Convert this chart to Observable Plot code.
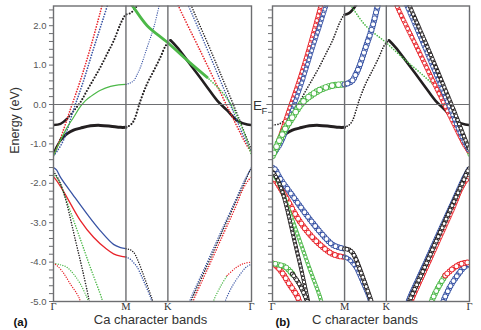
<!DOCTYPE html>
<html><head><meta charset="utf-8">
<script src="https://cdn.jsdelivr.net/npm/d3@7"></script>
<script src="https://cdn.jsdelivr.net/npm/@observablehq/plot@0.6"></script>
<style>
body{margin:0;background:#fff;}
#wrap{position:relative;width:481px;height:330px;overflow:hidden;background:#fff;}
#wrap svg{position:absolute;top:0;}
</style></head><body><div id="wrap"></div>
<script>
// k-path positions (units of 2π/a) and labels
const kTicks = [0, 0.577, 0.911, 1.577];
const kLabels = ["Γ", "M", "K", "Γ"];
const eMajor = [-5, -4, -3, -2, -1, 0, 1, 2];
const eMinor = d3.range(-5, 2.51, 0.2);
const panelTitles = ["Ca character bands", "C character bands"];
const panelTags = ["(a)", "(b)"];

// bands: [k, E (eV)]
const bandA = [[0,-0.52],[0.056,-0.49],[0.109,-0.36],[0.159,-0.17],[0.215,0.06],[0.268,0.36],[0.321,0.65],[0.374,0.95],[0.428,1.29],[0.480,1.62],[0.534,2.05],[0.565,2.24],[0.577,2.28],[0.613,2.32],[0.645,2.42],[0.677,2.56]];
const bandB = [[0,-1.25],[0.024,-1.08],[0.056,-0.9],[0.109,-0.74],[0.159,-0.65],[0.215,-0.6],[0.295,-0.54],[0.374,-0.53],[0.454,-0.55],[0.534,-0.58],[0.577,-0.58],[0.613,-0.52],[0.640,-0.41],[0.693,0.1],[0.746,0.53],[0.799,0.86],[0.852,1.2],[0.895,1.5],[0.932,1.63],[0.985,1.45],[1.065,1.12],[1.145,0.78],[1.224,0.44],[1.304,0.1],[1.383,-0.15],[1.463,-0.41],[1.543,-0.51],[1.577,-0.52]];
const bandG1 = [[0,-1.3],[0.056,-0.91],[0.109,-0.58],[0.159,-0.33],[0.215,-0.05],[0.255,0.1],[0.295,0.2],[0.374,0.36],[0.454,0.46],[0.518,0.5],[0.577,0.51]];
const bandBl1 = [[0.577,0.51],[0.613,0.55],[0.640,0.61],[0.669,0.78],[0.693,0.95],[0.746,1.45],[0.799,1.96],[0.839,2.47],[0.852,2.62]];
const bandG2 = [[0.597,2.62],[0.627,2.51],[0.746,2.0],[0.906,1.58],[1.065,1.12],[1.224,0.69],[1.330,0.36],[1.410,0.02],[1.489,-0.49],[1.529,-0.8],[1.560,-1.12],[1.577,-1.28]];
const bandR1 = [[0,-1.28],[0.024,-1.12],[0.056,-0.86],[0.135,-0.12],[0.215,0.62],[0.295,1.45],[0.374,2.36],[0.398,2.65]];
const bandU1 = [[0,-1.3],[0.032,-1.17],[0.080,-0.9],[0.159,-0.14],[0.239,0.6],[0.319,1.42],[0.398,2.2],[0.438,2.6]];
const bandR2 = [[0.980,2.65],[0.996,2.5],[1.171,1.35],[1.330,0.3],[1.450,-0.48],[1.529,-0.98],[1.577,-1.22]];
const bandU2 = [[1.059,2.6],[1.075,2.5],[1.211,1.5],[1.330,0.6],[1.434,-0.2],[1.513,-0.8],[1.577,-1.2]];
const bandK2 = [[1.083,2.65],[1.099,2.5],[1.235,1.5],[1.354,0.6],[1.458,-0.2],[1.529,-0.78],[1.577,-1.15]];
const bandL1b = [[0,-1.6],[0.024,-1.66],[0.056,-1.85],[0.159,-2.31],[0.265,-2.77],[0.372,-3.2],[0.478,-3.55],[0.534,-3.63],[0.577,-3.66]];
const bandL1r = [[0,-1.83],[0.040,-2.0],[0.106,-2.35],[0.213,-2.94],[0.319,-3.37],[0.422,-3.67],[0.478,-3.79],[0.534,-3.85],[0.577,-3.87]];
const bandL2 = [[0.577,-3.66],[0.613,-3.69],[0.640,-3.76],[0.667,-3.92],[0.719,-4.35],[0.786,-4.95],[0.800,-5.1]];
const bandL3 = [[0.577,-3.87],[0.613,-3.93],[0.640,-4.02],[0.667,-4.13],[0.719,-4.49],[0.779,-4.95],[0.792,-5.1]];
const bandS2 = [[0,-1.75],[0.024,-1.85],[0.053,-2.01],[0.135,-2.72],[0.215,-3.43],[0.295,-4.15],[0.385,-4.93],[0.396,-5.08]];
const bandS1 = [[0,-1.7],[0.040,-1.9],[0.072,-2.15],[0.106,-2.52],[0.175,-3.45],[0.231,-4.2],[0.279,-4.9],[0.289,-5.08]];
const bandL4 = [[0,-4.03],[0.056,-4.07],[0.106,-4.13],[0.159,-4.3],[0.213,-4.55],[0.265,-4.89],[0.289,-5.08]];
const bandL5 = [[0,-4.03],[0.032,-4.1],[0.080,-4.28],[0.133,-4.55],[0.186,-4.8],[0.207,-4.93],[0.217,-5.08]];
const bandS3 = [[1.089,-5.08],[1.099,-4.97],[1.211,-4.18],[1.330,-3.33],[1.450,-2.48],[1.529,-1.93],[1.561,-1.7],[1.577,-1.62]];
const bandS4 = [[1.105,-5.08],[1.115,-4.97],[1.235,-4.12],[1.354,-3.28],[1.450,-2.6],[1.513,-2.12],[1.553,-1.92],[1.577,-1.85]];
const bandS5 = [[1.077,-5.08],[1.087,-4.97],[1.211,-4.1],[1.330,-3.26],[1.450,-2.43],[1.529,-1.88],[1.577,-1.6]];
const bandR5 = [[1.270,-5.08],[1.277,-4.97],[1.330,-4.62],[1.383,-4.34],[1.450,-4.15],[1.513,-4.04],[1.577,-4.0]];
const bandR6 = [[1.360,-5.08],[1.370,-4.97],[1.426,-4.6],[1.489,-4.3],[1.537,-4.12],[1.577,-4.05]];

const bands = {A: bandA, B: bandB, G1: bandG1, Bl1: bandBl1, G2: bandG2, R1: bandR1, U1: bandU1,
  R2: bandR2, U2: bandU2, K2: bandK2, L1b: bandL1b, L1r: bandL1r, L2: bandL2, L3: bandL3,
  S1: bandS1, S2: bandS2, L4: bandL4, L5: bandL5, S3: bandS3, S4: bandS4, S5: bandS5, R5: bandR5, R6: bandR6};

// orbital character: [band, fromKnot, toKnot, colour, weight style]
const charCa = [
 ["B",0,2,"k","s2.2"],["B",2,10,"k","s3"],["B",10,18,"k","d2.2"],["B",18,27,"k","s2.6"],
 ["A",0,2,"k","s2.4"],["A",2,15,"k","d2.1"],
 ["L1b",0,8,"b","s1.3"],["L1r",0,8,"r","s1.3"],
 ["L2",0,6,"k","d1.5"],["L3",0,6,"b","d1.5"],
 ["S2",0,7,"g","d1.6"],["S1",0,7,"k","d1.6"],
 ["L4",0,6,"g","d1.4"],["L5",0,6,"r","d1.4"],
 ["S3",0,7,"k","d1.6"],["S4",0,7,"r","d1.6"],["S5",0,6,"b","d1.5"],
 ["R5",0,3,"g","d1.4"],["R5",3,6,"r","d1.4"],["R6",0,5,"b","d1.4"],
 ["R1",0,7,"r","d1.7"],["U1",0,7,"b","d1.7"],
 ["R2",0,6,"r","d1.7"],["U2",0,6,"b","d1.6"],["K2",0,6,"k","d1.6"],
 ["G1",0,10,"g","s1.2"],["Bl1",0,8,"b","d1.3"],
 ["G2",0,5,"g","s2.8"],["G2",5,11,"g","d1.7"]
];
const charC = [
 ["A",0,12,"k","d1.7"],["A",12,15,"k","s2.6"],
 ["B",0,2,"k","s1.8"],["B",2,10,"k","s3"],["B",10,18,"k","d1.7"],["B",18,27,"k","s2.6"],
 ["G2",0,7,"g","d1.7"],["G2",7,11,"g","o3.8"],
 ["R1",0,7,"r","o4.8"],["U1",0,7,"b","o4.8"],
 ["G1",0,10,"g","o6.6"],["Bl1",0,8,"b","o6"],
 ["R2",0,6,"r","o4.8"],["U2",0,6,"b","o4.8"],["K2",0,6,"k","o4.4"],
 ["L1r",0,8,"r","o5.8"],["L1b",0,8,"b","o5.8"],
 ["L3",0,6,"b","o4.8"],["L2",0,6,"k","o4.8"],
 ["S2",0,7,"g","o4.2"],["S1",0,7,"k","o4.2"],
 ["L5",0,6,"r","o5.8"],["L4",0,3,"g","o5.8"],["L4",3,6,"k","o4.8"],
 ["S5",0,6,"b","o4.8"],["S4",0,7,"r","o4.8"],["S3",0,7,"k","o4.8"],
 ["R6",0,5,"b","o5.8"],["R5",0,3,"g","o5.8"],["R5",3,6,"r","o5.8"]
];

const colors = {r: "#e8242b", b: "#3853a4", g: "#4cb848", k: "#231f20"};
const gray = "#6d6e71";
const tickLen = 0.032;

function bandMarks(chars) {
  const marks = [];
  for (const [name, i0, i1, c, st] of chars) {
    const pts = bands[name].slice(i0, i1 + 1);
    const type = st[0], w = +st.slice(1);
    const base = {x: d => d[0], y: d => d[1], curve: "catmull-rom", clip: true,
      strokeLinecap: "round", strokeLinejoin: "round"};
    if (type === "s") {
      marks.push(Plot.line(pts, {...base, stroke: colors[c], strokeWidth: w}));
    } else if (type === "d") {
      marks.push(Plot.line(pts, {...base, stroke: colors[c], strokeWidth: w, strokeDasharray: `0 ${w + 1}`}));
    } else {
      // open circles: two interleaved passes so neighbouring rings stay visible
      const g = w * 0.5, P = 2 * g, t = 0.9;
      for (const off of [0, -g]) {
        marks.push(Plot.line(pts, {...base, stroke: colors[c], strokeWidth: w, strokeDasharray: `0 ${P}`, strokeDashoffset: off}));
        marks.push(Plot.line(pts, {...base, stroke: "white", strokeWidth: w - 2 * t, strokeDasharray: `0 ${P}`, strokeDashoffset: off}));
      }
    }
  }
  return marks;
}

function panel(idx, chars, opts) {
  const labels = kTicks.map((k, i) => ({k, l: kLabels[i]}));
  const marks = [
    ...bandMarks(chars),
    Plot.ruleY([0], {x1: idx === 1 ? -0.045 : 0, x2: 1.577, stroke: gray, strokeWidth: 1}),
    Plot.ruleX([kTicks[1], kTicks[2]], {stroke: gray, strokeWidth: 1.4}),
    Plot.frame({stroke: gray, strokeWidth: 1.4}),
    Plot.ruleY(eMinor, {y: d => d, x1: -tickLen, x2: 0, stroke: gray, strokeWidth: 1}),
    Plot.text(labels, {x: "k", y: -5, text: "l", dy: 5.5, lineAnchor: "middle", fontSize: 10.5,
      fill: "#333", fontFamily: "Liberation Serif, serif"}),
    Plot.text([panelTitles[idx]], {frameAnchor: "bottom", dy: 18.5, dx: opts.titleDx, lineAnchor: "middle",
      fontSize: 13, fill: "#333"}),
    Plot.text([panelTags[idx]], {frameAnchor: "bottom-left", dy: 21, dx: opts.tagDx, lineAnchor: "middle",
      fontSize: 11.5, fontWeight: "bold", fill: "#111"})
  ];
  if (idx === 0) {
    marks.push(Plot.text(eMajor, {x: 0, y: d => d, text: d => d.toFixed(1), dx: -7, textAnchor: "end",
      fontSize: 9.5, fill: "#555"}));
    marks.push(Plot.text(["Energy (eV)"], {frameAnchor: "left", dx: -39, dy: 0, rotate: -90,
      fontSize: 12.5, fill: "#333"}));
  } else {
    marks.push(Plot.text(["E"], {x: 0, y: 0, dx: -19.5, dy: 1, textAnchor: "start", lineAnchor: "middle",
      fontSize: 13.5, fill: "#333"}));
    marks.push(Plot.text(["F"], {x: 0, y: 0, dx: -11, dy: 6.5, textAnchor: "start", lineAnchor: "middle",
      fontSize: 9.5, fill: "#333"}));
  }
  const svg = Plot.plot({
    width: opts.width, height: 330,
    marginLeft: opts.ml, marginRight: opts.mr, marginTop: 5.5, marginBottom: 29,
    x: {domain: [0, 1.577], axis: null},
    y: {domain: [-5, 2.5], axis: null},
    style: {background: "transparent", fontFamily: "Liberation Sans, Arial, sans-serif", overflow: "visible"},
    marks
  });
  svg.style.left = opts.left + "px";
  return svg;
}

const wrap = document.getElementById("wrap");
wrap.appendChild(panel(0, charCa, {width: 252, ml: 53, mr: 1, left: 0, titleDx: -2, tagDx: -40}));
wrap.appendChild(panel(1, charC, {width: 229, ml: 20, mr: 12, left: 252, titleDx: -6, tagDx: 3}));
</script>
</body></html>
